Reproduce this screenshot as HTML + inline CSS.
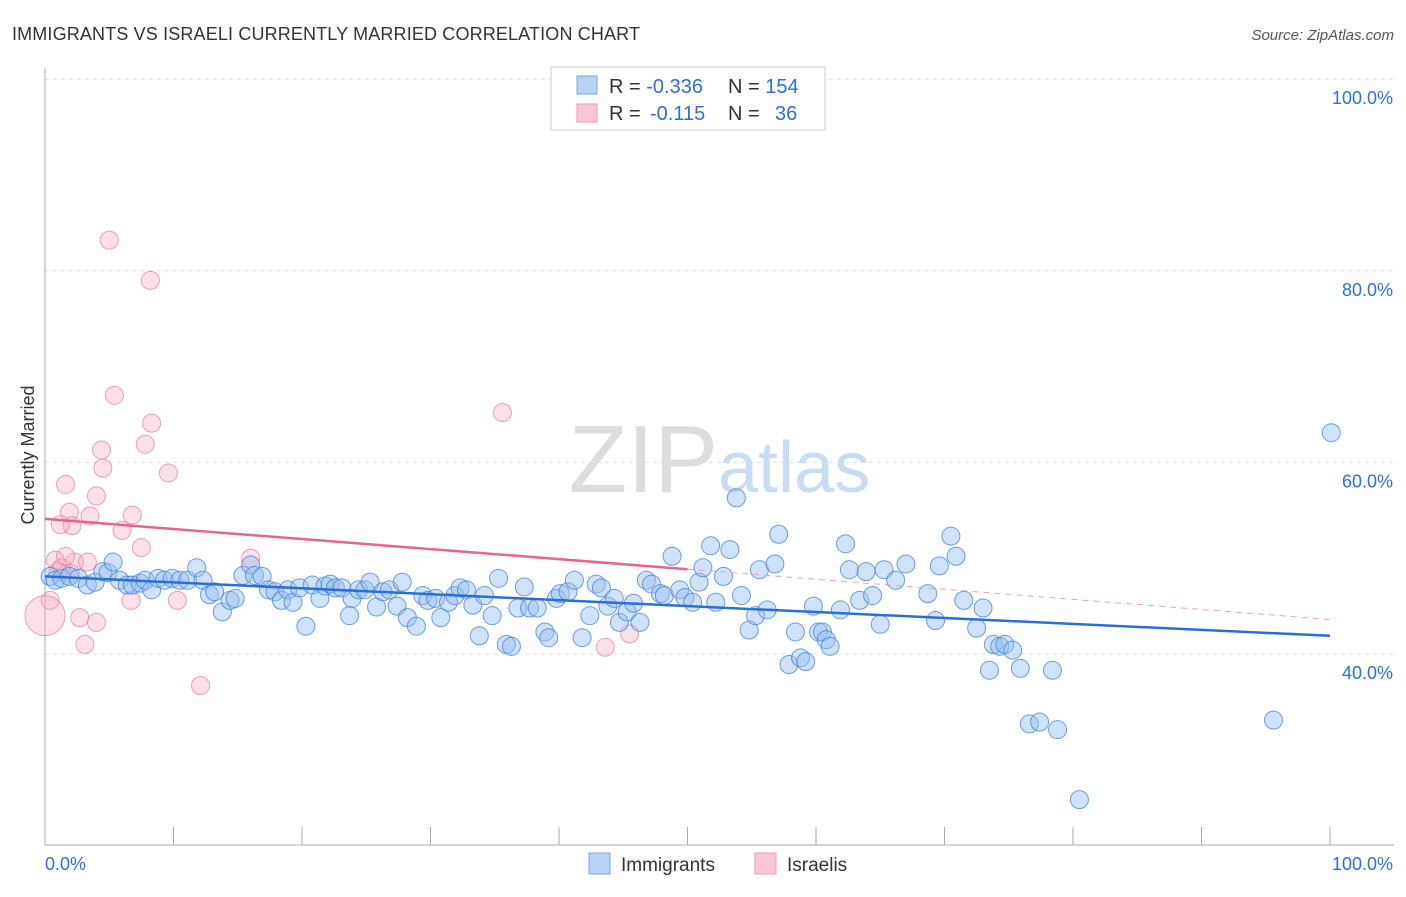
<!DOCTYPE html>
<html><head><meta charset="utf-8"><style>
body{margin:0;background:#fff;font-family:"Liberation Sans",sans-serif;}
svg text{font-family:"Liberation Sans",sans-serif;}
</style></head><body>
<svg id="chart" width="1406" height="892">
<text x="12" y="40" font-size="18" fill="#333" textLength="628">IMMIGRANTS VS ISRAELI CURRENTLY MARRIED CORRELATION CHART</text>
<text x="1394" y="40" font-size="15" fill="#555" font-style="italic" text-anchor="end">Source: ZipAtlas.com</text>
<text x="718" y="492" font-size="96" fill="#ddd" text-anchor="end" font-family="Liberation Serif">ZIP</text>
<text x="718" y="492" font-size="72" fill="#c9dcf2">atlas</text>
<g id="grid"></g><g id="axes"></g><g id="pts"></g><g id="trends"></g>
<text transform="translate(34,455) rotate(-90)" font-size="18" fill="#333" text-anchor="middle">Currently Married</text>
<g>
<rect x="551" y="67" width="274" height="63" fill="#fff" stroke="#ccc"/>
<rect x="577" y="76" width="20" height="18" fill="#b8d3f5" stroke="#7aa6e6"/>
<rect x="577" y="104" width="20" height="18" fill="#f9c6d6" stroke="#ee9ab5"/>
<text x="609" y="93" font-size="20" fill="#333">R = <tspan fill="#2e6fdb">-0.336</tspan><tspan x="728">N = </tspan><tspan fill="#2e6fdb">154</tspan></text>
<text x="609" y="120" font-size="20" fill="#333">R = <tspan x="650" fill="#2e6fdb">-0.115</tspan><tspan x="728">N = </tspan><tspan x="775" fill="#2e6fdb">36</tspan></text>
</g>
<g>
<rect x="589" y="853" width="21" height="21" fill="#b8d3f5" stroke="#7aa6e6"/>
<text x="621" y="871" font-size="19" fill="#333">Immigrants</text>
<rect x="755" y="853" width="21" height="21" fill="#f9c6d6" stroke="#ee9ab5"/>
<text x="787" y="871" font-size="19" fill="#333">Israelis</text>
</g>
</svg>
<script>
const yTicks=[40,60,80,100];
const xTickLabels=["0.0%","100.0%"];
const blueX=[0.4,0.8,1.3,1.9,2.6,3.3,3.9,4.5,4.9,5.3,5.8,6.4,6.8,7.4,7.8,8.3,8.8,9.3,9.9,10.5,11.1,11.8,12.3,12.8,13.2,13.8,14.4,14.8,15.4,16.0,16.3,16.9,17.4,17.9,18.4,18.9,19.3,19.8,20.3,20.8,21.4,21.8,22.2,22.6,23.1,23.7,23.9,24.4,24.9,25.3,25.8,26.3,26.8,27.4,27.8,28.2,28.9,29.4,29.8,30.4,30.8,31.4,31.9,32.3,32.8,33.3,33.8,34.2,34.8,35.3,35.9,36.3,36.8,37.3,37.7,38.3,38.9,39.2,39.8,40.1,40.7,41.2,41.8,42.4,42.9,43.3,43.8,44.3,44.7,45.3,45.8,46.3,46.8,47.2,47.9,48.2,48.8,49.4,49.8,50.4,50.9,51.2,51.8,52.2,52.8,53.3,53.8,54.2,54.8,55.3,55.6,56.2,56.8,57.1,57.9,58.4,58.8,59.2,59.8,60.2,60.5,60.8,61.1,61.9,62.3,62.6,63.4,63.9,64.4,65.0,65.3,66.2,67.0,68.7,69.3,69.6,70.5,70.9,71.5,72.5,73.0,73.5,73.8,74.3,74.7,75.3,75.9,76.6,77.4,78.4,78.8,80.5,95.6,100.1];
const blueY=[48.1,47.7,47.9,48.1,47.9,47.2,47.5,48.6,48.5,49.6,47.7,47.2,47.2,47.4,47.7,46.7,47.9,47.7,47.9,47.7,47.7,49.0,47.7,46.2,46.5,44.4,45.6,45.8,48.2,49.3,48.2,48.1,46.7,46.5,45.6,46.7,45.4,46.9,42.9,47.2,45.8,47.1,47.3,46.9,46.9,44.0,45.8,46.7,46.7,47.5,44.9,46.5,46.7,45.0,47.5,43.8,42.9,46.1,45.6,45.8,43.8,45.4,46.1,46.9,46.7,45.1,41.9,46.1,44.0,47.9,41.0,40.8,44.8,47.0,44.8,44.8,42.3,41.7,45.8,46.3,46.5,47.7,41.7,44.0,47.3,46.9,45.0,45.8,43.3,44.4,45.3,43.3,47.7,47.3,46.3,46.1,50.2,46.7,45.9,45.4,47.5,49.0,51.3,45.4,48.1,50.9,56.3,46.1,42.5,44.0,48.8,44.6,49.4,52.5,38.9,42.3,39.6,39.2,45.0,42.3,42.3,41.5,40.8,44.6,51.5,48.8,45.6,48.6,46.1,43.1,48.8,47.7,49.4,46.3,43.5,49.2,52.3,50.2,45.6,42.7,44.8,38.3,41.0,40.8,41.0,40.4,38.5,32.7,32.9,38.3,32.1,24.8,33.1,63.1];
const pinkX=[0.4,0.0,0.8,1.0,1.3,1.6,1.9,2.1,2.3,2.7,3.1,3.3,3.5,4.0,4.0,4.4,4.5,5.0,5.4,6.0,6.8,6.7,7.5,7.8,8.3,8.2,9.6,10.3,12.1,16.0,35.6,43.6,45.5,1.6,1.2,2.0];
const pinkY=[45.6,44.0,49.8,48.6,49.0,57.7,54.8,53.4,49.6,43.8,41.0,49.6,54.4,56.5,43.3,61.3,59.4,83.2,67.0,52.9,54.5,45.6,51.1,61.9,64.1,79.0,58.9,45.6,36.7,50.0,65.2,40.7,42.1,50.2,53.5,48.4];
const pinkR=[9,20,9,9,9,9,9,9,9,9,9,9,9,9,9,9,9,9,9,9,9,9,9,9,9,9,9,9,9,9,9,9,9,9,9,9];
const blueTrend=[48.1,41.9];
const pinkTrend=[54.1,43.6];
const NS="http://www.w3.org/2000/svg";
const xs=v=>45+v*12.85;
const ys=v=>654-(v-40)*9.58;
function mk(tag,at,parent){const e=document.createElementNS(NS,tag);for(const k in at)e.setAttribute(k,at[k]);document.getElementById(parent).appendChild(e);return e;}
yTicks.forEach(t=>{
 const l=mk('line',{x1:45,x2:1394,y1:ys(t),y2:ys(t),stroke:'#ddd','stroke-dasharray':'4,4'},'grid');
 
 
 const tx=mk('text',{x:1393,y:ys(t)+25,'font-size':18,fill:'#2e6fdb','text-anchor':'end'},'grid');
 tx.textContent=t.toFixed(1)+'%';
 
 
});
const ax=mk('line',{x1:45,x2:45,y1:68,y2:845,stroke:'#aaa'},'axes');


const bx=mk('line',{x1:45,x2:1394,y1:845,y2:845,stroke:'#aaa'},'axes');


for(let i=0;i<=10;i++){const t=mk('line',{x1:xs(i*10),x2:xs(i*10),y1:827,y2:845,stroke:'#aaa'},'axes');
 
 }
[[0,'start',45],[100,'end',1393]].forEach((a,i)=>{const t=mk('text',{x:a[2],y:870,'font-size':18,fill:'#2e6fdb','text-anchor':a[1]},'axes');t.textContent=xTickLabels[i];
 
 });
pinkX.forEach((x,i)=>{const c=mk('circle',{cx:xs(x),cy:ys(pinkY[i]),r:pinkR[i],fill:'rgba(246,170,195,0.35)',stroke:'rgba(232,120,160,0.7)'},'pts');
 
 });
blueX.forEach((x,i)=>{const c=mk('circle',{cx:xs(x),cy:ys(blueY[i]),r:9,fill:'rgba(150,190,240,0.45)',stroke:'rgba(60,130,220,0.75)'},'pts');
 
 });
const bt=mk('line',{x1:xs(0),y1:ys(blueTrend[0]),x2:xs(100),y2:ys(blueTrend[1]),stroke:'#2a6fd6','stroke-width':2.5},'trends');


const pm=pinkTrend[0]+(pinkTrend[1]-pinkTrend[0])*0.5;
const pt=mk('line',{x1:xs(0),y1:ys(pinkTrend[0]),x2:xs(50),y2:ys(pm),stroke:'#e8648f','stroke-width':2.5},'trends');


const pd=mk('line',{x1:xs(50),y1:ys(pm),x2:xs(100),y2:ys(pinkTrend[1]),stroke:'#eea0ba','stroke-width':1,'stroke-dasharray':'6,5'},'trends');


</script>
</body></html>
